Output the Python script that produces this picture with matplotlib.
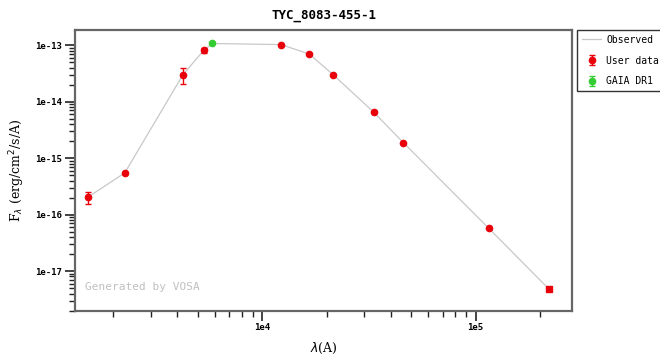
import matplotlib
matplotlib.use("Agg")
import matplotlib.pyplot as plt
import numpy as np

# Data (wavelength in Angstrom, flux in erg/cm2/s/A)
user_wave = [1524, 2265, 4250, 5310, 12240, 16600, 21500, 33400, 45800, 115000]
user_flux = [2.04e-16, 5.46e-16, 3.01e-14, 8.04e-14, 1.02e-13, 6.95e-14, 2.98e-14, 6.41e-15, 1.88e-15, 5.75e-17]
user_err = [0.5e-16, 0.0, 0.95e-14, 0.9e-14, 0.0, 0.0, 0.0, 0.0, 0.0, 0.0]
limit_wave = [220800]
limit_flux = [4.78e-18]
gaia_wave = [5830]
gaia_flux = [1.067e-13]
gaia_err = [0.0]

W, H = 660, 356
fig = plt.figure(figsize=(W / 100, H / 100), dpi=100)
L, R, T, B = 75, 572, 30, 311
ax = fig.add_axes([L / W, 1 - B / H, (R - L) / W, (B - T) / H])

allw = user_wave + gaia_wave + limit_wave
allf = user_flux + gaia_flux + limit_flux
order = np.argsort(allw)
obs_w = np.array(allw)[order]
obs_f = np.array(allf)[order]
ax.plot(obs_w, obs_f, color="#c8c8c8", lw=0.9, zorder=1, label="Observed")

ax.errorbar(user_wave, user_flux, yerr=user_err, fmt="o", color="#e8000b",
            ms=4.5, capsize=2.5, elinewidth=1, capthick=1, zorder=3, label="User data")
ax.plot(limit_wave, limit_flux, "s", color="#e8000b", ms=4.5, zorder=3)
ax.errorbar(gaia_wave, gaia_flux, yerr=gaia_err, fmt="o", color="#33cc33",
            ms=4.5, capsize=2.5, elinewidth=1, capthick=1, zorder=3, label="GAIA DR1")

ax.set_xscale("log")
ax.set_yscale("log")
ax.set_xlim(1324, 2.83e5)
ax.set_ylim(1.96e-18, 1.85e-13)

ax.set_xticks([1e4, 1e5])
ax.set_xticklabels(["1e4", "1e5"])
ax.set_yticks([1e-17, 1e-16, 1e-15, 1e-14, 1e-13])
ax.set_yticklabels(["1e-17", "1e-16", "1e-15", "1e-14", "1e-13"])
ax.tick_params(which="major", direction="out", length=7, width=1.2, labelsize=6.5,
               color="#222222", pad=2)
ax.tick_params(which="minor", direction="out", length=4, width=1.0, color="#222222")
for lab in ax.get_xticklabels() + ax.get_yticklabels():
    lab.set_family("DejaVu Sans Mono")
    lab.set_fontweight("bold")
for s in ax.spines.values():
    s.set_color("#666666")
    s.set_linewidth(1.6)

ax.set_title("TYC_8083-455-1", fontsize=9, fontweight="bold",
             family="DejaVu Sans Mono", pad=8)
ax.set_xlabel(r"$\lambda$(A)", fontsize=9, family="DejaVu Serif", labelpad=6)
ax.set_ylabel(r"F$_\lambda$ (erg/cm$^2$/s/A)", fontsize=9, family="DejaVu Serif", labelpad=6)

ax.text(0.02, 0.075, "Generated by VOSA", transform=ax.transAxes,
        fontsize=8, color="#c0c0c0", family="DejaVu Sans Mono")

leg = fig.legend(loc="upper left", bbox_to_anchor=(577 / W, 1 - 30 / H),
                 prop={"family": "DejaVu Sans Mono", "size": 7},
                 frameon=True, fancybox=False, edgecolor="black",
                 handlelength=2.0, handletextpad=0.5, borderpad=0.5,
                 borderaxespad=0, labelspacing=1.1)
leg.get_frame().set_linewidth(1.0)

fig.savefig("out.png", dpi=100)
